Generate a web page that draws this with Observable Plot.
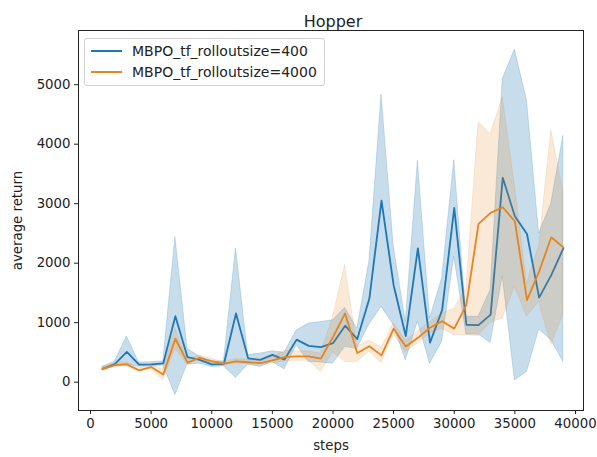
<!DOCTYPE html>
<html>
<head>
<meta charset="utf-8">
<script src="https://cdn.jsdelivr.net/npm/d3@7"></script>
<script src="https://cdn.jsdelivr.net/npm/@observablehq/plot@0.6"></script>
<style>
  html, body { margin: 0; padding: 0; background: #fff; }
  #wrap { position: relative; width: 597px; height: 457px; font-family: "DejaVu Sans", sans-serif; }
  #legend { position: absolute; left: 84px; top: 38px; width: 241px; height: 48px; box-sizing: border-box;
            border: 1px solid #d0d0d0; border-radius: 3px; background: rgba(255,255,255,0.85);
            font-size: 14px; color: #222; }
  .item { position: absolute; left: 6px; height: 16px; display: flex; align-items: center; }
  .item svg { margin-right: 10px; }
</style>
</head>
<body>
<div id="wrap"></div>
<script>
const title = "Hopper";
const xLabel = "steps";
const yLabel = "average return";
const seriesNames = ["MBPO_tf_rolloutsize=400", "MBPO_tf_rolloutsize=4000"];
const colors = ["#1f77b4", "#e6841f"];
const fillOpacities = [0.25, 0.18];
const xTicks = [0, 5000, 10000, 15000, 20000, 25000, 30000, 35000, 40000];
const yTicks = [0, 1000, 2000, 3000, 4000, 5000];

const steps = [1000, 2000, 3000, 4000, 5000, 6000, 7000, 8000, 9000, 10000,
  11000, 12000, 13000, 14000, 15000, 16000, 17000, 18000, 19000, 20000,
  21000, 22000, 23000, 24000, 25000, 26000, 27000, 28000, 29000, 30000,
  31000, 32000, 33000, 34000, 35000, 36000, 37000, 38000, 39000];

const mean400 = [225, 305, 510, 295, 300, 315, 1110, 420, 375, 300,
  305, 1155, 400, 375, 460, 380, 715, 610, 590, 655,
  950, 725, 1405, 3050, 1630, 775, 2250, 665, 1210, 2930,
  965, 960, 1135, 3435, 2790, 2490, 1420, 1800, 2250];
const lo400 = [190, 265, 300, 260, 265, 280, -215, 300, 310, 255,
  265, 70, 295, 255, 340, 215, 620, 340, 330, 310,
  590, 560, 970, 1265, 960, 365, 1015, 310, 675, 2110,
  800, 800, 660, 1775, 30, 170, 885, 705, 340];
const hi400 = [260, 345, 770, 330, 335, 350, 2440, 560, 430, 340,
  350, 2250, 455, 480, 520, 495, 870, 985, 1010, 1040,
  1250, 900, 2030, 4840, 2300, 1015, 3720, 1070, 1745, 3730,
  1100, 1100, 1550, 5100, 5590, 4730, 2500, 3000, 4140];

const mean4000 = [225, 285, 300, 200, 255, 130, 730, 330, 410, 355,
  310, 350, 335, 320, 365, 420, 435, 435, 395, 760,
  1155, 490, 605, 450, 900, 600, 745, 915, 1025, 900,
  1300, 2660, 2845, 2940, 2705, 1380, 1860, 2435, 2265];
const lo4000 = [195, 255, 270, 170, 225, 30, 560, 290, 375, 325,
  280, 315, 300, 290, 320, 350, 360, 360, 170, 500,
  340, 340, 510, 320, 820, 500, 650, 820, 900, 790,
  790, 775, 1000, 1070, 1600, 1100, 1350, 625, 1130];
const hi4000 = [255, 315, 335, 235, 290, 210, 900, 370, 450, 390,
  340, 390, 375, 355, 420, 530, 520, 520, 480, 1100,
  1970, 600, 700, 580, 990, 700, 850, 1010, 1150, 1240,
  1580, 4370, 4170, 4790, 3300, 1650, 2300, 4240, 3210];

const series = [
  {name: seriesNames[0], mean: mean400, lo: lo400, hi: hi400},
  {name: seriesNames[1], mean: mean4000, lo: lo4000, hi: hi4000}
];

const bandMarks = series.flatMap((s, k) => {
  const rows = steps.map((st, i) => ({step: st, series: s.name, mean: s.mean[i], lo: s.lo[i], hi: s.hi[i]}));
  return [
    Plot.areaY(rows, {x: "step", y1: "lo", y2: "hi", fill: "series", fillOpacity: fillOpacities[k],
                      stroke: "series", strokeOpacity: fillOpacities[k] * 0.8, strokeWidth: 1}),
    Plot.line(rows, {x: "step", y: "mean", stroke: "series", strokeWidth: 1.8})
  ];
});

const chart = Plot.plot({
  width: 597,
  height: 457,
  marginLeft: 78,
  marginRight: 14,
  marginTop: 30,
  marginBottom: 47,
  style: {fontFamily: "DejaVu Sans, sans-serif", fontSize: "13.3px", color: "#222", background: "#fff"},
  x: {domain: [-990, 40660], ticks: xTicks, tickFormat: d => String(d), tickSize: 4, tickPadding: 4,
      label: xLabel, labelAnchor: "center", labelArrow: "none", labelOffset: 39},
  y: {domain: [-476, 5911], ticks: yTicks, tickFormat: d => String(d), tickSize: 4, tickPadding: 4,
      label: yLabel, labelAnchor: "center", labelArrow: "none", labelOffset: 66},
  color: {domain: seriesNames, range: colors},
  marks: [
    ...bandMarks,
    Plot.frame({stroke: "#222", strokeWidth: 1}),
    Plot.text([title], {frameAnchor: "top", dy: -15, dx: 2, fontSize: 16, fill: "#222"})
  ]
});

const wrap = document.getElementById("wrap");
wrap.appendChild(chart);

const legend = document.createElement("div");
legend.id = "legend";
seriesNames.forEach((name, i) => {
  const item = document.createElement("div");
  item.className = "item";
  item.style.top = (4 + i * 21) + "px";
  item.innerHTML = `<svg width="31" height="4"><line x1="0" x2="31" y1="2" y2="2" stroke="${colors[i]}" stroke-width="2"/></svg><span>${name}</span>`;
  legend.appendChild(item);
});
wrap.appendChild(legend);
</script>
</body>
</html>
